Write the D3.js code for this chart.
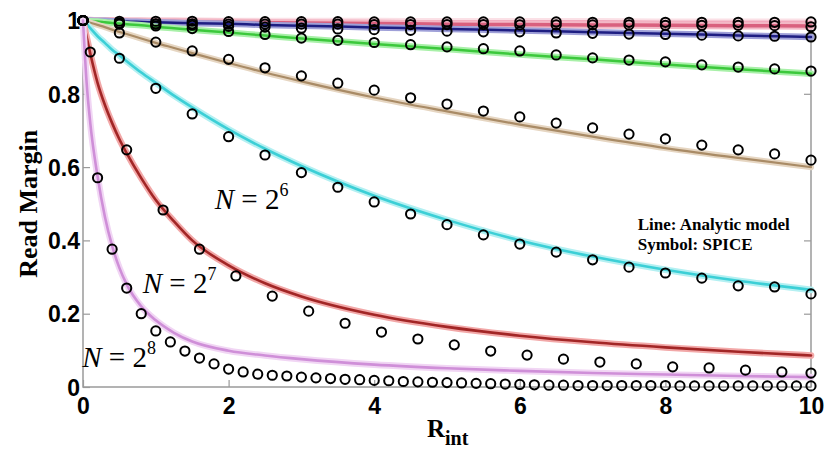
<!DOCTYPE html>
<html>
<head>
<meta charset="utf-8">
<script src="https://cdn.jsdelivr.net/npm/d3@7"></script>
<style>
  html, body { margin: 0; padding: 0; background: #fff; }
  svg { display: block; }
  .tick text { font-family: "Liberation Sans", Arial, sans-serif; font-weight: bold; font-size: 23px; fill: #000; }
  .serif { font-family: "Liberation Serif", "Times New Roman", serif; fill: #000; }
</style>
</head>
<body>
<svg id="chart" width="834" height="451"></svg>
<script>
// ===============================
// data
// ===============================
// analytic model: sample points along R_int
const R_LINE = [0, 0.05, 0.1, 0.2, 0.3, 0.4, 0.5, 0.6, 0.8, 1, 1.25, 1.5, 2, 2.5, 3, 4, 5, 6, 7, 8, 9, 10];

const lineN1 = [1, 1, 1, 1, 1, 0.999, 0.999, 0.999, 0.999, 0.999, 0.999, 0.999, 0.998, 0.998, 0.998, 0.998, 0.997, 0.997, 0.997, 0.996, 0.996, 0.996];
const lineN2 = [1, 1, 1, 0.999, 0.999, 0.999, 0.998, 0.998, 0.998, 0.997, 0.997, 0.996, 0.995, 0.994, 0.993, 0.992, 0.990, 0.989, 0.988, 0.987, 0.986, 0.985];
const lineN3 = [1, 1, 1, 0.999, 0.999, 0.998, 0.998, 0.997, 0.996, 0.995, 0.994, 0.993, 0.991, 0.988, 0.986, 0.981, 0.977, 0.973, 0.968, 0.964, 0.959, 0.955];
const lineN4 = [1, 0.999, 0.998, 0.997, 0.995, 0.993, 0.992, 0.990, 0.987, 0.983, 0.979, 0.975, 0.967, 0.959, 0.951, 0.936, 0.922, 0.907, 0.894, 0.880, 0.867, 0.855];
const lineN5 = [1, 0.997, 0.994, 0.988, 0.982, 0.975, 0.969, 0.963, 0.951, 0.939, 0.925, 0.911, 0.884, 0.858, 0.834, 0.790, 0.752, 0.716, 0.683, 0.652, 0.625, 0.600];
const lineN6 = [1, 0.990, 0.979, 0.957, 0.939, 0.920, 0.905, 0.889, 0.858, 0.830, 0.795, 0.763, 0.703, 0.650, 0.603, 0.522, 0.456, 0.400, 0.356, 0.320, 0.290, 0.265];
const lineN7 = [1, 0.955, 0.910, 0.830, 0.770, 0.720, 0.676, 0.638, 0.570, 0.510, 0.452, 0.400, 0.332, 0.283, 0.247, 0.197, 0.164, 0.140, 0.122, 0.108, 0.096, 0.086];
const lineN8 = [1, 0.830, 0.720, 0.575, 0.465, 0.385, 0.325, 0.280, 0.220, 0.182, 0.148, 0.124, 0.099, 0.086, 0.076, 0.061, 0.051, 0.044, 0.038, 0.034, 0.030, 0.027];

// SPICE: symbol positions
const R_SPICE = [0, 0.5, 1, 1.5, 2, 2.5, 3, 3.5, 4, 4.5, 5, 5.5, 6, 6.5, 7, 7.5, 8, 8.5, 9, 9.5, 10];
const R_SPICE_N7 = [0, 0.1, 0.6, 1.1, 1.6, 2.1, 2.6, 3.1, 3.6, 4.1, 4.6, 5.1, 5.6, 6.1, 6.6, 7.1, 7.6, 8.1, 8.6, 9.1, 9.6, 10];
const R_SPICE_N8 = [0, 0.2, 0.4, 0.6, 0.8, 1, 1.2, 1.4, 1.6, 1.8, 2, 2.2, 2.4, 2.6, 2.8, 3, 3.2, 3.4, 3.6, 3.8, 4, 4.2, 4.4, 4.6, 4.8, 5,
  5.2, 5.4, 5.6, 5.8, 6, 6.2, 6.4, 6.6, 6.8, 7, 7.2, 7.4, 7.6, 7.8, 8, 8.2, 8.4, 8.6, 8.8, 9, 9.2, 9.4, 9.6, 9.8, 10];

const spiceN1 = [1, 0.998, 0.998, 0.998, 0.997, 0.997, 0.997, 0.997, 0.996, 0.996, 0.996, 0.996, 0.996, 0.996, 0.995, 0.995, 0.995, 0.995, 0.995, 0.995, 0.996];
const spiceN2 = [1, 0.992, 0.991, 0.991, 0.990, 0.990, 0.990, 0.990, 0.989, 0.989, 0.989, 0.989, 0.988, 0.988, 0.988, 0.988, 0.987, 0.987, 0.987, 0.986, 0.983];
const spiceN3 = [1, 0.993, 0.990, 0.987, 0.984, 0.982, 0.979, 0.977, 0.975, 0.973, 0.971, 0.969, 0.969, 0.966, 0.965, 0.963, 0.962, 0.960, 0.958, 0.957, 0.955];
const spiceN4 = [1, 0.990, 0.985, 0.978, 0.970, 0.962, 0.952, 0.946, 0.940, 0.934, 0.928, 0.923, 0.917, 0.906, 0.898, 0.892, 0.887, 0.879, 0.873, 0.868, 0.862];
const spiceN5 = [1, 0.966, 0.941, 0.917, 0.894, 0.871, 0.849, 0.829, 0.810, 0.789, 0.772, 0.753, 0.737, 0.720, 0.707, 0.690, 0.677, 0.660, 0.647, 0.636, 0.619];
const spiceN6 = [1, 0.897, 0.815, 0.745, 0.683, 0.633, 0.585, 0.545, 0.505, 0.472, 0.443, 0.415, 0.390, 0.368, 0.347, 0.327, 0.311, 0.297, 0.276, 0.273, 0.254];
const spiceN7 = [1, 0.914, 0.647, 0.483, 0.376, 0.303, 0.248, 0.207, 0.174, 0.150, 0.131, 0.115, 0.098, 0.087, 0.076, 0.068, 0.063, 0.055, 0.052, 0.046, 0.041, 0.038];
const spiceN8 = [1, 0.571, 0.376, 0.270, 0.200, 0.153, 0.123, 0.098, 0.079, 0.063, 0.049, 0.041, 0.035, 0.032, 0.030, 0.027, 0.025, 0.023, 0.021, 0.020, 0.018,
  0.017, 0.015, 0.014, 0.013, 0.012, 0.011, 0.010, 0.009, 0.008, 0.007, 0.006, 0.005, 0.005, 0.004, 0.004, 0.004, 0.004, 0.004, 0.004, 0.004,
  0.003, 0.003, 0.003, 0.003, 0.003, 0.003, 0.003, 0.003, 0.003, 0.003];

// axes
const xTicks = [0, 2, 4, 6, 8, 10];
const xTickLabels = ['0', '2', '4', '6', '8', '10'];
const yTicks = [0, 0.2, 0.4, 0.6, 0.8, 1];
const yTickLabels = ['0', '0.2', '0.4', '0.6', '0.8', '1'];

// ===============================
// layout / style
// ===============================
const W = 834, H = 451;
const M = { top: 20.5, right: 23, bottom: 64, left: 83 };

// core colour + soft halo under it, as in the original
const series = [
  { line: lineN1, spice: spiceN1, rs: R_SPICE,    core: '#f2a9bd', halo: '#fbe0e6', w: 3 },
  { line: lineN2, spice: spiceN2, rs: R_SPICE,    core: '#d9607e', halo: '#f3b8c6', w: 3.5 },
  { line: lineN3, spice: spiceN3, rs: R_SPICE,    core: '#1e1e82', halo: '#9fa0d8', w: 2.5 },
  { line: lineN4, spice: spiceN4, rs: R_SPICE,    core: '#3cc83c', halo: '#a8f0a8', w: 2.5 },
  { line: lineN5, spice: spiceN5, rs: R_SPICE,    core: '#a98b66', halo: '#e6d6c2', w: 2.2 },
  { line: lineN6, spice: spiceN6, rs: R_SPICE,    core: '#3ccfd6', halo: '#b4f0f2', w: 2.6 },
  { line: lineN7, spice: spiceN7, rs: R_SPICE_N7, core: '#a22626', halo: '#f2a8a8', w: 2.6 },
  { line: lineN8, spice: spiceN8, rs: R_SPICE_N8, core: '#cf8fd8', halo: '#f1d6f4', w: 2.6 },
];

const svg = d3.select('#chart');
const x = d3.scaleLinear().domain([0, 10]).range([M.left, W - M.right]);
const y = d3.scaleLinear().domain([0, 1]).range([H - M.bottom, M.top]);

// box
svg.append('rect')
  .attr('x', x(0)).attr('y', y(1))
  .attr('width', x(10) - x(0)).attr('height', y(0) - y(1))
  .attr('fill', 'none').attr('stroke', '#9a9a9a').attr('stroke-width', 1.5);

// ticks (inside, MATLAB style) on all four sides
const axisColor = (g) => {
  g.select('.domain').remove();
  g.selectAll('.tick line').attr('stroke', '#9a9a9a').attr('stroke-width', 1.2);
};
svg.append('g').attr('transform', `translate(0,${y(0)})`)
  .call(d3.axisBottom(x).tickValues(xTicks).tickFormat((d, i) => xTickLabels[i]).tickSize(-7).tickPadding(11))
  .call(axisColor);
svg.append('g').attr('transform', `translate(${x(0)},0)`)
  .call(d3.axisLeft(y).tickValues(yTicks).tickFormat((d, i) => yTickLabels[i]).tickSize(-7).tickPadding(3))
  .call(axisColor)
  .call((g) => g.selectAll('.tick text').attr('dy', '0.36em'));
svg.append('g').attr('transform', `translate(${x(10)},0)`)
  .call(d3.axisRight(y).tickValues(yTicks).tickFormat('').tickSize(-7))
  .call(axisColor);
svg.append('g').attr('transform', `translate(0,${y(1)})`)
  .call(d3.axisTop(x).tickValues(xTicks).tickFormat('').tickSize(-7))
  .call(axisColor);

// ===============================
// lines
// ===============================
const line = d3.line()
  .x((d) => x(d[0]))
  .y((d) => y(d[1]))
  .curve(d3.curveMonotoneX);

const lines = svg.append('g');
for (const s of series) {
  const pts = R_LINE.map((r, i) => [r, s.line[i]]);
  lines.append('path')
    .attr('d', line(pts)).attr('fill', 'none')
    .attr('stroke', s.halo).attr('stroke-width', s.w + 4)
    .attr('stroke-linecap', 'round').attr('stroke-linejoin', 'round');
  lines.append('path')
    .attr('d', line(pts)).attr('fill', 'none')
    .attr('stroke', s.core).attr('stroke-width', s.w)
    .attr('stroke-linecap', 'round').attr('stroke-linejoin', 'round');
}

// ===============================
// SPICE symbols
// ===============================
const marks = svg.append('g');
for (const s of series) {
  marks.selectAll(null)
    .data(s.rs.map((r, i) => [r, s.spice[i]]))
    .join('circle')
    .attr('cx', (d) => x(d[0]))
    .attr('cy', (d) => y(d[1]))
    .attr('r', 4.6)
    .attr('fill', 'none')
    .attr('stroke', '#000')
    .attr('stroke-width', 2);
}

// ===============================
// labels
// ===============================
svg.append('text')
  .attr('class', 'serif')
  .attr('transform', `translate(37,${(y(0) + y(1)) / 2}) rotate(-90)`)
  .attr('text-anchor', 'middle')
  .attr('font-size', 26).attr('font-weight', 'bold')
  .text('Read Margin');

const xl = svg.append('text')
  .attr('class', 'serif')
  .attr('x', 427).attr('y', 437)
  .attr('font-weight', 'bold');
xl.append('tspan').attr('font-size', 25).text('R');
xl.append('tspan').attr('font-size', 20).attr('dy', 8).text('int');

// N = 2^k annotations (anchored in data coords)
const nLabels = [
  { k: '6', r: 1.81, v: 0.486 },
  { k: '7', r: 0.82, v: 0.256 },
  { k: '8', r: -0.01, v: 0.055 },
];
for (const n of nLabels) {
  const t = svg.append('text')
    .attr('class', 'serif')
    .attr('x', x(n.r)).attr('y', y(n.v))
    .attr('font-size', 29);
  t.append('tspan').attr('font-style', 'italic').text('N');
  t.append('tspan').text(' = 2');
  t.append('tspan').attr('font-size', 18).attr('dy', -13).text(n.k);
}

// legend note
const note = svg.append('g').attr('class', 'serif').attr('font-weight', 'bold').attr('font-size', 17);
note.append('text').attr('class', 'serif').attr('x', x(7.62)).attr('y', y(0.428)).text('Line: Analytic model');
note.append('text').attr('class', 'serif').attr('x', x(7.62)).attr('y', y(0.374)).text('Symbol: SPICE');
</script>
</body>
</html>
